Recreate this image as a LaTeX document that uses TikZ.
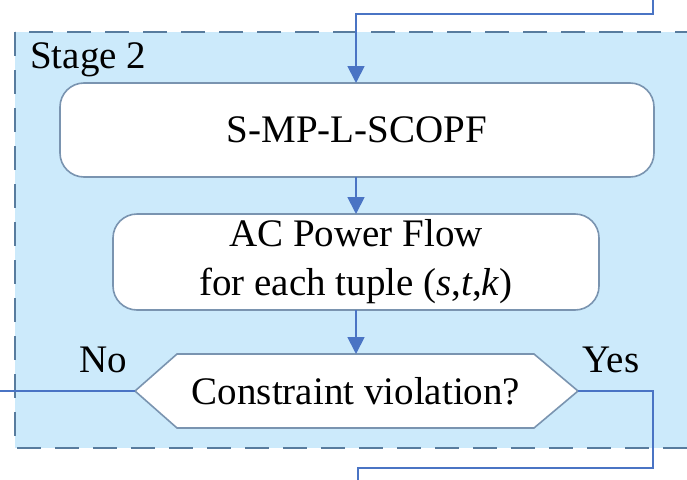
\documentclass[tikz,border=0pt]{standalone}
\usepackage{fontspec}
\setmainfont{Liberation Serif}
\usetikzlibrary{arrows.meta}
\definecolor{stagefill}{HTML}{CCEAFB}
\definecolor{stageline}{HTML}{587C9E}
\definecolor{flowline}{HTML}{4A74C4}
\definecolor{boxline}{HTML}{7A94B0}
\tikzset{
  stagebox/.style={fill=stagefill, draw=stageline, line width=1.8pt, dash pattern=on 24pt off 14pt},
  procbox/.style={draw=boxline, fill=white, line width=1.6pt, rounded corners=24pt},
  flow/.style={draw=flowline, line width=1.8pt},
  flowarrow/.style={flow, -{Triangle[length=17pt,width=17pt]}},
  txt/.style={font=\fontsize{39}{49}\selectfont, align=center, inner sep=0pt},
}
\begin{document}
\begin{tikzpicture}[x=1pt,y=-1pt]
\useasboundingbox (0,0) rectangle (687,479);
\clip (0,0) rectangle (687,479);
% stage frame
\path[stagebox] (15,32) rectangle (720,448);
\node[txt, anchor=base west] (stage) at (30,68) {Stage 2};
% process boxes
\path[procbox] (60,83) rectangle (654,177);
\node[txt] (scopf) at (357,130) {S-MP-L-SCOPF};
\coordinate (scopfT) at (356,83);
\coordinate (scopfB) at (356,177);
\path[procbox] (113,214) rectangle (599,310);
\node[txt] (acpf) at (356,262) {AC Power Flow\\for each tuple (\textit{s},\textit{t},\textit{k})};
\coordinate (acpfT) at (356,214);
\coordinate (acpfB) at (356,310);
% decision hexagon
\coordinate (hexL) at (135,391);
\coordinate (hexR) at (578,391);
\coordinate (hexT) at (356,354);
\path[draw=boxline, fill=white, line width=1.6pt]
  (hexL) -- (177,354) -- (534,354) -- (hexR) -- (534,428) -- (177,428) -- cycle;
\node[txt] (check) at (356,391) {Constraint violation?};
\node[txt] (no) at (103,360) {No};
\node[txt] (yes) at (611,360) {Yes};
% connectors
\coordinate (inTop) at (653,-5);
\coordinate (outBot) at (358,485);
\coordinate (noEnd) at (-5,391);
\draw[flowarrow] (inTop) |- (356,14) -- (scopfT);
\draw[flowarrow] (scopfB) -- (acpfT);
\draw[flowarrow] (acpfB) -- (hexT);
\draw[flow] (hexL) -- (noEnd);
\draw[flow] (hexR) -- (653,391) |- (358,468) -- (outBot);
\end{tikzpicture}
\end{document}
